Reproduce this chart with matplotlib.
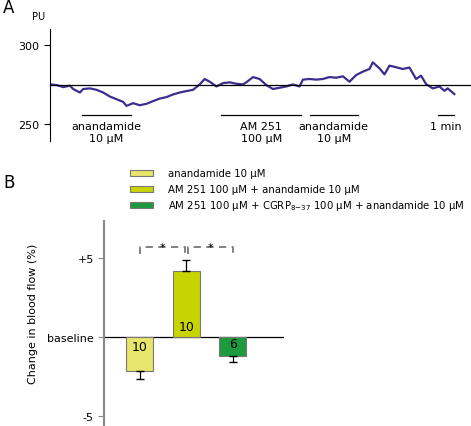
import matplotlib
matplotlib.use("Agg")
import matplotlib.pyplot as plt
from matplotlib.patches import Rectangle

# Panel A trace (time in min, PU)
t = [0.0,0.4,0.8,1.2,1.4,1.8,2.0,2.4,2.8,3.2,3.6,4.0,4.4,4.6,5.0,5.4,5.8,6.2,6.6,7.0,7.4,7.8,8.2,8.6,9.0,9.3,9.6,10.0,10.4,10.8,11.2,11.6,11.8,12.2,12.6,13.0,13.4,13.8,14.2,14.6,15.0,15.2,15.6,16.0,16.4,16.8,17.2,17.6,18.0,18.4,18.8,19.2,19.4,19.8,20.1,20.4,20.8,21.2,21.6,22.0,22.3,22.6,23.0,23.4,23.7,23.9,24.3]
pu = [275.1,274.7,273.4,274.3,272.2,270.0,272.2,272.6,271.7,270.0,267.5,265.8,264.1,261.6,263.3,262.0,262.9,264.6,266.2,267.1,268.8,270.0,270.9,271.7,275.1,278.5,276.8,273.8,275.9,276.4,275.5,275.1,276.4,279.7,278.5,274.7,272.2,273.0,273.8,275.1,273.8,278.1,278.5,278.1,278.5,279.7,279.3,280.2,276.8,281.0,283.1,284.8,289.0,285.2,281.4,286.9,285.9,284.8,285.7,278.5,280.6,275.3,272.6,273.8,271.1,272.6,269.0]
baseline_pu = 274.7
drug_bars = [(1.9, 4.9, "anandamide\n10 µM"), (10.3, 15.1, "AM 251\n100 µM"),
             (15.6, 18.5, "anandamide\n10 µM"), (23.3, 24.3, "1 min")]

# Panel B
groups = ["anandamide 10 µM", "AM 251 100 µM + anandamide 10 µM",
          "AM 251 100 µM + CGRP$_{8\\mathrm{-}37}$ 100 µM + anandamide 10 µM"]
values = [-2.1, 4.18, -1.2]
errors = [0.54, 0.72, 0.34]
ns = ["10", "10", "6"]
colors = ["#e8e56c", "#c8d400", "#1e9a3e"]

fig = plt.figure(figsize=(4.71, 4.27), dpi=100)
axA = fig.add_axes([0.106, 0.667, 0.894, 0.263])
axA.plot(t, pu, color="#3a2f8f", lw=1.6)
axA.axhline(baseline_pu, color="black", lw=0.9)
axA.set_xlim(0, 25.3)
axA.set_ylim(239.4, 310)
for s in ["top", "right", "bottom"]:
    axA.spines[s].set_visible(False)
axA.set_xticks([])
axA.set_yticks([250, 300])
axA.tick_params(axis="y", labelsize=8, length=4)
for a, b, lab in drug_bars:
    axA.plot([a, b], [255.7, 255.7], color="black", lw=0.9)
    axA.text((a + b) / 2, 252.0, lab, ha="center", va="top", fontsize=8, linespacing=1.2)
fig.text(3/471, 1 - 8/427, "A", fontsize=12, va="center")
fig.text(32/471, 1 - 17/427, "PU", fontsize=7, va="center")

axB = fig.add_axes([0.221, 0.0, 0.382, 0.48])
x = [0, 1, 2]
axB.bar(x, values, width=0.58, color=colors, edgecolor="#777777", lw=0.8, zorder=2)
for xi, v, e in zip(x, values, errors):
    sgn = 1 if v > 0 else -1
    axB.errorbar(xi, v, yerr=[[0], [e]] if sgn > 0 else [[e], [0]], color="black",
                 capsize=3, lw=0.9, zorder=3)
for xi, n, yy in zip(x, ns, [-0.6, 0.7, -0.4]):
    axB.text(xi, yy, n, ha="center", va="center", fontsize=9)
axB.axhline(0, color="black", lw=0.9, zorder=1)
axB.set_xlim(-0.76, 3.1)
axB.set_ylim(-5.6, 7.34)
for s in ["top", "right", "bottom"]:
    axB.spines[s].set_visible(False)
axB.spines["left"].set_color("#888888")
axB.spines["left"].set_linewidth(1.5)
axB.set_xticks([])
axB.set_yticks([5, 0, -5])
axB.set_yticklabels(["+5", "baseline", "-5"], fontsize=8)
axB.tick_params(axis="y", length=4, color="#888888")
axB.set_ylabel("Change in blood flow (%)", fontsize=8)
axB.yaxis.set_label_coords(-0.37, 0.55)
for x0, x1 in [(0.0, 0.97), (1.03, 2.0)]:
    axB.plot([x0, x0, x1, x1], [5.27, 5.7, 5.7, 5.27], color="#777777", lw=1.3,
             ls=(0, (4, 3)))
    axB.text((x0 + x1) / 2, 5.72, "*", ha="center", va="center", fontsize=8)

for i, (g, c) in enumerate(zip(groups, colors)):
    yy = 1 - (174 + i * 16) / 427
    fig.patches.append(Rectangle((130/471, yy - 2.5/427), 23/471, 6/427, transform=fig.transFigure,
                                 facecolor=c, edgecolor="#777777", lw=0.8))
    fig.text(168/471, yy, g, fontsize=7.3, va="center")
fig.text(3/471, 1 - 183/427, "B", fontsize=12, va="center")

fig.savefig("out.png", dpi=100)
